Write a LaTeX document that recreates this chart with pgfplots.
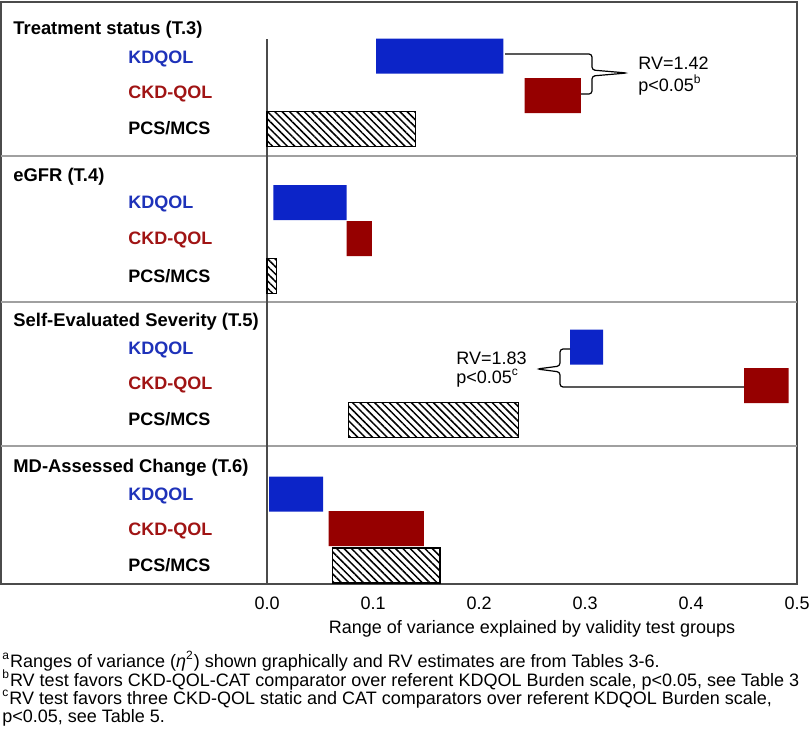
\documentclass[border=0pt]{standalone}
\usepackage{pgfplots}
\pgfplotsset{compat=1.18}
\usepackage{pgfplotstable}
\usetikzlibrary{patterns.meta}
\usepackage{fontspec}
\setmainfont{Liberation Sans}
\definecolor{kdblue}{RGB}{12,36,200}
\definecolor{ckdred}{RGB}{150,0,0}
\definecolor{kdtext}{RGB}{30,50,185}
\definecolor{ckdtext}{RGB}{160,20,20}
\definecolor{framegray}{RGB}{75,75,75}
\definecolor{sepgray}{RGB}{160,160,160}

% y = pixel row of the bar centre, lo/hi = range of variance explained
\pgfplotstableread{
y lo hi
56    0.103 0.223
202.5 0.006 0.075
347   0.286 0.317
494   0.002 0.053
}\kdqol
\pgfplotstableread{
y lo hi
95.5  0.243 0.296
238.5 0.075 0.099
385.5 0.450 0.492
528.5 0.058 0.148
}\ckdqol
\pgfplotstableread{
y lo hi
129   0.000 0.140
276   0.000 0.009
420   0.077 0.237
565.5 0.062 0.163
}\pcsmcs

\pgfplotsset{
  frame/.style={
    scale only axis, width=398pt, height=291pt,
    at={(1,584)}, anchor=south west,
    xmin=-0.2509, xmax=0.5, ymin=2, ymax=584, y dir=reverse,
    clip=false,
  },
  barlayer/.style={frame, hide axis, xbar stacked, bar width=35},
}
\newcommand{\f}{\fontsize{9}{10.5}\selectfont}

\begin{document}
\begin{tikzpicture}[x=0.5pt, y=-0.5pt]
\useasboundingbox (0,0) rectangle (810,734);

\begin{axis}[frame,
  axis line style={framegray, line width=0.75pt},
  xtick={0,0.1,0.2,0.3,0.4,0.5}, ytick=\empty,
  major tick length=0pt,
  xticklabel style={font=\f, yshift=-3pt,
    /pgf/number format/.cd, fixed, fixed zerofill, precision=1, assume math mode=true},
]
\end{axis}

% panel separators and zero line
\draw[sepgray, line width=0.75pt] (1,156) -- (797,156);
\draw[sepgray, line width=0.75pt] (1,302) -- (797,302);
\draw[sepgray, line width=0.75pt] (1,446) -- (797,446);
\draw[framegray, line width=0.75pt] (267,39) -- (267,584);

\begin{axis}[barlayer]
\addplot[draw=none, fill=none, forget plot] table[x=lo, y=y]{\kdqol};
\addplot[draw=none, fill=kdblue] table[x expr=\thisrow{hi}-\thisrow{lo}, y=y]{\kdqol};
\end{axis}
\begin{axis}[barlayer]
\addplot[draw=none, fill=none, forget plot] table[x=lo, y=y]{\ckdqol};
\addplot[draw=none, fill=ckdred] table[x expr=\thisrow{hi}-\thisrow{lo}, y=y]{\ckdqol};
\end{axis}
\begin{axis}[barlayer]
\addplot[draw=none, fill=none, forget plot] table[x=lo, y=y]{\pcsmcs};
\addplot[draw=black, line width=0.7pt, pattern={Lines[angle=-45, distance=2.6pt, line width=0.75pt]}] table[x expr=\thisrow{hi}-\thisrow{lo}, y=y]{\pcsmcs};
\end{axis}

% panel titles
\begin{scope}[every node/.style={anchor=base west, inner sep=0pt, font=\bfseries\fontsize{9.2}{11}\selectfont}]
\node at (13,34.5) {Treatment status (T.3)};
\node at (13,181.5) {eGFR (T.4)};
\node at (13,326.5) {Self-Evaluated Severity (T.5)};
\node at (13,472.5) {MD-Assessed Change (T.6)};
\end{scope}
\begin{scope}[every node/.style={anchor=base west, inner sep=0pt, font=\bfseries\f}]
\foreach \a/\b/\c in {63.5/98.5/134.5, 208.5/244.5/282.5, 354.5/389.5/425.5, 500.5/535.5/571.5}{
  \node[text=kdtext] at (128,\a) {KDQOL};
  \node[text=ckdtext] at (128,\b) {CKD-QOL};
  \node at (128,\c) {PCS/MCS};
}
\end{scope}

% RV annotations
\draw[line width=0.6pt, rounded corners=1.5pt] (505,54) -- (592,54) -- (592,70) -- (627,73) -- (592,76) -- (592,94) -- (581,94);
\draw[line width=0.6pt, rounded corners=1.5pt] (570,349) -- (560,349) -- (560,366) -- (537,369) -- (560,372) -- (560,387) -- (744,387);
\begin{scope}[every node/.style={anchor=base west, inner sep=0pt, font=\f}]
\node at (638,69.5) {RV=1.42};
\node at (638,91.5) {p<0.05\textsuperscript{b}};
\node at (456,364.5) {RV=1.83};
\node at (456,383.5) {p<0.05\textsuperscript{c}};
\end{scope}

% axis title
\node[anchor=base, inner sep=0pt, font=\f] at (532,633) {Range of variance explained by validity test groups};

% footnotes
\begin{scope}[every node/.style={anchor=base west, inner sep=0pt, font=\f}]
\node at (2,667) {\textsuperscript{a}Ranges of variance (\textit{η}\textsuperscript{2}) shown graphically and RV estimates are from Tables 3-6.};
\node at (2,686) {\textsuperscript{b}RV test favors CKD-QOL-CAT comparator over referent KDQOL Burden scale, p<0.05, see Table 3};
\node at (2,704) {\textsuperscript{c}RV test favors three CKD-QOL static and CAT comparators over referent KDQOL Burden scale,};
\node at (2,722) {p<0.05, see Table 5.};
\end{scope}
\end{tikzpicture}
\end{document}
